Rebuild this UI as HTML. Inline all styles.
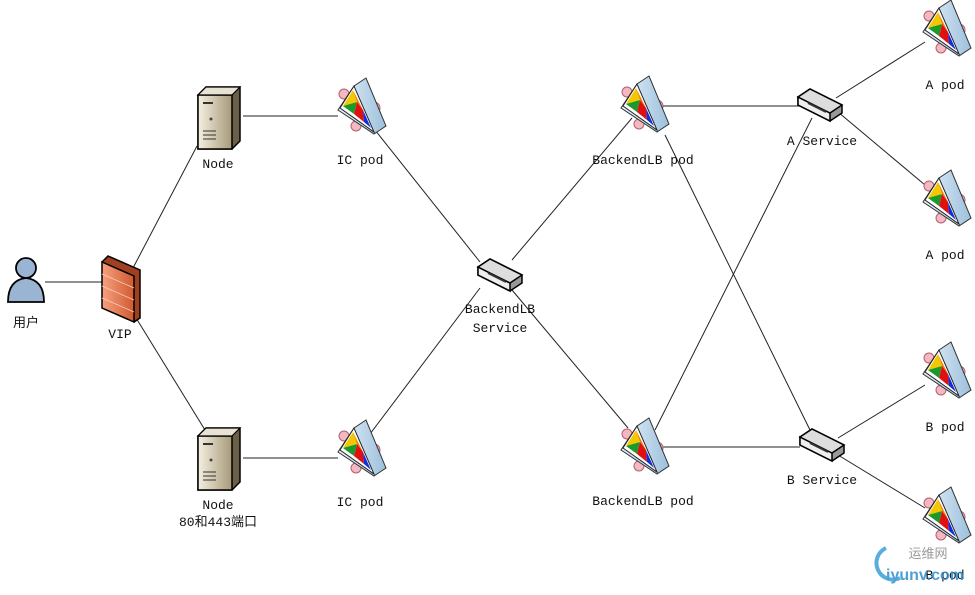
<!DOCTYPE html>
<html><head><meta charset="utf-8"><style>
html,body{margin:0;padding:0;background:#fff;}
svg text{font-family:"Liberation Mono","Noto Sans CJK SC",monospace;font-size:13px;fill:#111;text-anchor:middle;}
</style></head><body>
<svg width="975" height="590" viewBox="0 0 975 590" xmlns="http://www.w3.org/2000/svg">
<defs>
<linearGradient id="sv" x1="0" x2="1"><stop offset="0" stop-color="#f4efe0"/><stop offset="1" stop-color="#a89a7a"/></linearGradient>
<linearGradient id="fw" x1="0" x2="1"><stop offset="0" stop-color="#f7a080"/><stop offset="1" stop-color="#d05a30"/></linearGradient>
<linearGradient id="pr" x1="0" x2="1"><stop offset="0" stop-color="#e8f2fa"/><stop offset="1" stop-color="#9cc0dc"/></linearGradient>
<g id="server">
<path d="M-20,-22 L-12,-30 L22,-30 L22,24 L14,32 L-20,32 Z" fill="#6b5f48" stroke="#000" stroke-width="1.5"/>
<rect x="-20" y="-22" width="34" height="54" fill="url(#sv)" stroke="#000" stroke-width="1.5"/>
<path d="M-20,-22 L-12,-30 L22,-30 L14,-22Z" fill="#e8e2d2" stroke="#000" stroke-width="1.2"/>
<line x1="-15" y1="-14" x2="-5" y2="-14" stroke="#333" stroke-width="2"/>
<circle cx="-7" cy="2" r="1.5" fill="#444"/>
<g stroke="#333"><line x1="-15" y1="14" x2="-2" y2="14"/><line x1="-15" y1="18" x2="-2" y2="18"/><line x1="-15" y1="22" x2="-2" y2="22"/></g>
</g>
<g id="pod">
<circle cx="-16" cy="-14" r="5" fill="#f3b8c0" stroke="#b06070"/>
<circle cx="14" cy="0" r="6" fill="#f3b8c0" stroke="#b06070"/>
<circle cx="-4" cy="18" r="5" fill="#f3b8c0" stroke="#b06070"/>
<path d="M-6,-22 L6,-30 L26,18 L14,26 L-22,2 Z" fill="url(#pr)" stroke="#333"/>
<path d="M-20,0 L-6,-22 L14,24 Z" fill="#fff" stroke="#222"/>
<path d="M-17,-2 L-7,-18 L-3,-6 Z" fill="#f4c800"/>
<path d="M-17,-2 L-3,-6 L-6,6 Z" fill="#1a9a2a"/>
<path d="M-7,-18 L-3,-6 L3,2 Z" fill="#f08000"/>
<path d="M-3,-6 L-6,6 L4,14 L3,2 Z" fill="#e01010"/>
<path d="M3,2 L4,14 L11,20 Z" fill="#1030e0"/>
</g>
<g id="sw">
<path d="M-22,-6 L-10,-14 L22,2 L22,10 L10,18 L-22,2Z" fill="#999" stroke="#000" stroke-width="1.5"/>
<path d="M-22,-6 L10,10 L10,18 L-22,2Z" fill="#eee" stroke="#000" stroke-width="1.5"/>
<path d="M-22,-6 L-10,-14 L22,2 L10,10Z" fill="#ddd" stroke="#000" stroke-width="1.5"/>
<line x1="-12" y1="0" x2="6" y2="9" stroke="#333" stroke-width="2"/>
</g>
</defs>
<g stroke="#222" stroke-width="1" fill="none">
<line x1="45" y1="282" x2="102" y2="282"/>
<line x1="133" y1="268" x2="197" y2="146"/>
<line x1="133" y1="313" x2="205" y2="430"/>
<line x1="243" y1="116" x2="338" y2="116"/>
<line x1="243" y1="458" x2="338" y2="458"/>
<line x1="375" y1="130" x2="480" y2="262"/>
<line x1="370" y1="434" x2="480" y2="288"/>
<line x1="512" y1="260" x2="632" y2="118"/>
<line x1="512" y1="290" x2="628" y2="428"/>
<line x1="660" y1="106" x2="800" y2="106"/>
<line x1="660" y1="447" x2="800" y2="447"/>
<line x1="665" y1="135" x2="810" y2="430"/>
<line x1="655" y1="430" x2="812" y2="118"/>
<line x1="836" y1="98" x2="925" y2="42"/>
<line x1="838" y1="112" x2="925" y2="185"/>
<line x1="838" y1="438" x2="925" y2="385"/>
<line x1="838" y1="455" x2="925" y2="508"/>
</g>
<!-- user -->
<g stroke="#000" stroke-width="1.8" fill="#9ab4d4">
<path d="M8,302 Q8,280 26,278 Q44,280 44,302 Z"/>
<circle cx="26" cy="268" r="10"/>
</g>
<!-- firewall -->
<g>
<path d="M102,262 L108,256 L140,270 L140,318 L134,322 Z" fill="#a04020" stroke="#000" stroke-width="1.5"/>
<path d="M102,262 L134,276 L134,322 L102,308Z" fill="url(#fw)" stroke="#000" stroke-width="1.5"/>
<g stroke="#fbd0c0" stroke-width="0.8"><line x1="102" y1="274" x2="134" y2="288"/><line x1="102" y1="286" x2="134" y2="300"/><line x1="102" y1="298" x2="134" y2="312"/></g>
</g>
<use href="#server" x="218" y="117"/>
<use href="#server" x="218" y="458"/>
<use href="#pod" x="360" y="108"/>
<use href="#pod" x="360" y="450"/>
<use href="#pod" x="643" y="106"/>
<use href="#pod" x="643" y="448"/>
<use href="#pod" x="945" y="30"/>
<use href="#pod" x="945" y="200"/>
<use href="#pod" x="945" y="372"/>
<use href="#pod" x="945" y="517"/>
<use href="#sw" x="500" y="273"/>
<use href="#sw" x="820" y="103"/>
<use href="#sw" x="822" y="443"/>
<text x="26" y="327">用户</text>
<text x="120" y="338">VIP</text>
<text x="218" y="168">Node</text>
<text x="218" y="509">Node</text>
<text x="218" y="526">80和443端口</text>
<text x="360" y="164">IC pod</text>
<text x="360" y="506">IC pod</text>
<text x="500" y="313">BackendLB</text>
<text x="500" y="332">Service</text>
<text x="643" y="164">BackendLB pod</text>
<text x="643" y="505">BackendLB pod</text>
<text x="822" y="145">A Service</text>
<text x="822" y="484">B Service</text>
<text x="945" y="89">A pod</text>
<text x="945" y="259">A pod</text>
<text x="945" y="431">B pod</text>
<text x="945" y="579">B pod</text>
<g opacity="0.85">
<path d="M886,548 A16,16 0 1 0 900,578" fill="none" stroke="#3aa0d8" stroke-width="4"/>
<text x="928" y="558" style="font-family:'Noto Sans CJK SC',sans-serif;font-size:13px;fill:#888">运维网</text>
<text x="925" y="580" style="font-family:'Liberation Sans',sans-serif;font-size:16px;font-weight:bold;fill:#2f8fcf">iyunv.com</text>
</g>
</svg>
</body></html>
